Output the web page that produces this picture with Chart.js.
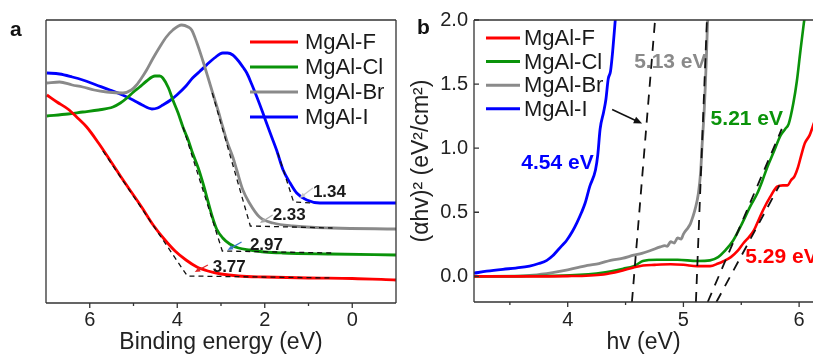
<!DOCTYPE html>
<html><head><meta charset="utf-8">
<script src="https://cdn.jsdelivr.net/npm/chart.js@4.4.1/dist/chart.umd.min.js"></script>
<style>
html,body{margin:0;padding:0;background:#fff;width:813px;height:356px;overflow:hidden;}
#wa{position:absolute;left:0;top:0;width:405px;height:356px;}
#wb{position:absolute;left:405px;top:0;width:408px;height:356px;}
</style></head><body>
<div id="wa"><canvas id="ca"></canvas></div>
<div id="wb"><canvas id="cb"></canvas></div>
<script>
// ---------------- DATA ----------------
const seriesNames = ['MgAl-F', 'MgAl-Cl', 'MgAl-Br', 'MgAl-I'];

// Panel a: binding energy (eV) vs intensity (arb. units)
const aBE_F  = [6.98,6.75,6.5,6.3,6.07,5.8,5.54,5.3,5.05,4.8,4.55,4.3,4.05,3.8,3.55,3.3,3.0,2.6,2.0,1.0,0,-1];
const aInt_F = [208,201,194,186,176,160,143,127,111,95,78,64,52,43,36,32,29,27,26,25,24.5,23];
const aBE_Cl  = [6.98,6.5,6.16,5.8,5.47,5.3,5.15,5.0,4.86,4.7,4.51,4.4,4.33,4.2,4.1,3.98,3.87,3.75,3.65,3.52,3.4,3.3,3.19,3.1,2.96,2.8,2.6,2.34,2.0,1.59,0.5,-1];
const aInt_Cl = [187,189,191,193,196,200,205,211,216,222,227,227,225,215,203,190,176,163,150,135,118,102,85,74,65,59,55,53,51,50,49,48];
const aBE_Br  = [6.98,6.69,6.4,6.16,5.9,5.61,5.24,5.05,4.93,4.8,4.7,4.55,4.4,4.25,4.1,3.9,3.75,3.67,3.55,3.42,3.3,3.19,3.05,2.96,2.85,2.73,2.64,2.5,2.35,2.12,1.81,1.36,0.45,-1];
const aInt_Br = [220,221,218,216,213,211,210,213,218,226,233,245,256,266,273,278,276,273,260,243,226,210,190,176,160,146,133,113,100,86,80,77,75,74];
const aBE_I  = [6.98,6.69,6.4,6.16,5.85,5.54,5.25,5.01,4.8,4.58,4.45,4.33,4.15,4.01,3.8,3.65,3.5,3.33,3.15,2.96,2.85,2.73,2.6,2.5,2.41,2.3,2.18,2.05,1.96,1.85,1.73,1.58,1.42,1.27,1.04,0.74,0,-1];
const aInt_I = [230,229,226,223,218,213,208,203,198,194,195,198,203,208,217,225,231,238,245,250,250,248,242,236,230,219,206,191,180,167,153,133,120,110,103,100,100,100];
// onset fits (tangent + baseline)
const aFitF_BE  = [5.7,3.77,0.45],  aFitF_Int  = [152,27,25];
const aFitCl_BE = [3.87,2.97,0.45], aFitCl_Int = [176,52,50];
const aFitBr_BE = [3.2,2.33,0.45],  aFitBr_Int = [210,77,75];
const aFitI_BE  = [1.7,1.34,0.9],   aFitI_Int  = [150,101,100];
const aOnsets = ['3.77', '2.97', '2.33', '1.34'];
const aXTicks = [0, 2, 4, 6];
const aXMinor = [1, 3, 5];

// Panel b: hv (eV) vs (ahv)^2
const bHv_F  = [3.19,3.6,4.0,4.31,4.45,4.57,4.65,4.75,4.89,5.0,5.12,5.23,5.3,5.35,5.41,5.47,5.52,5.57,5.61,5.65,5.69,5.75,5.81,5.86,5.9,5.93,5.96,5.99,6.02,6.05,6.09,6.13];
const bVal_F = [0.0,0.0,0.002,0.015,0.04,0.07,0.085,0.09,0.094,0.09,0.08,0.08,0.1,0.12,0.15,0.2,0.26,0.31,0.36,0.44,0.52,0.62,0.70,0.71,0.71,0.75,0.78,0.85,0.95,1.04,1.1,1.2];
const bHv_Cl  = [3.19,3.6,4.02,4.31,4.48,4.57,4.6,4.65,4.77,4.95,5.12,5.23,5.3,5.36,5.43,5.5,5.58,5.64,5.68,5.72,5.78,5.84,5.88,5.91,5.95,5.98,6.01,6.04,6.06];
const bVal_Cl = [0.0,0.002,0.008,0.03,0.06,0.08,0.094,0.12,0.13,0.13,0.12,0.125,0.15,0.2,0.28,0.4,0.55,0.65,0.74,0.84,0.97,1.1,1.15,1.19,1.35,1.52,1.75,1.97,2.1];
const bHv_Br  = [3.19,3.5,3.7,3.87,4.0,4.17,4.27,4.37,4.47,4.57,4.64,4.71,4.8,4.84,4.86,4.89,4.92,4.95,4.98,5.0,5.04,5.06,5.08,5.1,5.13,5.15,5.16,5.18,5.19,5.2,5.21,5.22];
const bVal_Br = [0.0,0.0,0.01,0.03,0.05,0.085,0.1,0.125,0.14,0.165,0.18,0.2,0.23,0.24,0.235,0.27,0.26,0.3,0.29,0.33,0.38,0.41,0.46,0.52,0.65,0.83,1.0,1.3,1.5,1.75,2.0,2.1];
const bHv_I  = [3.19,3.3,3.44,3.55,3.67,3.75,3.82,3.87,3.91,3.95,3.99,4.04,4.08,4.12,4.15,4.19,4.24,4.26,4.28,4.31,4.33,4.35,4.37,4.39,4.41,4.42];
const bVal_I = [0.025,0.04,0.055,0.065,0.08,0.1,0.125,0.16,0.2,0.24,0.28,0.35,0.42,0.5,0.57,0.7,0.83,0.95,1.15,1.28,1.38,1.54,1.6,1.77,1.99,2.1];
// Tauc extrapolation lines
const bFitA_Hv = [4.555,4.755], bFitA_Val = [-0.2,2.0];
const bFitB_Hv = [5.108,5.203], bFitB_Val = [-0.2,2.0];
const bFitC_Hv = [5.21,5.85],   bFitC_Val = [-0.2,1.15];
const bFitD_Hv = [5.285,5.83],  bFitD_Val = [-0.2,0.71];
const bGaps = ['5.29 eV', '5.21 eV', '5.13 eV', '4.54 eV'];
const bXTicks = [4, 5, 6];
const bXMinor = [3.5, 4.5, 5.5];
const bYTicks = [0, 0.5, 1.0, 1.5, 2.0];

// ---------------- STYLE ----------------
const COL = ['#ff0000', '#0a930a', '#8a8a8a', '#0000ff'];
const FONT = 'Arial, "Liberation Sans", Helvetica, sans-serif';
Chart.defaults.font.family = FONT;
Chart.defaults.color = '#1a1a1a';
Chart.defaults.animation = false;

const zip = (xs, ys) => xs.map((x, i) => ({x, y: ys[i]}));
function curve(i, xs, ys, w) {
  return {label: seriesNames[i], data: zip(xs, ys), borderColor: COL[i], backgroundColor: COL[i],
    borderWidth: w, pointRadius: 0, cubicInterpolationMode: 'monotone', fill: false, order: 2, isSeries: true};
}
function dashed(xs, ys, dash, w) {
  return {label: '', data: zip(xs, ys), borderColor: '#111', borderWidth: w, borderDash: dash,
    pointRadius: 0, tension: 0, fill: false, order: 0, isSeries: false};
}
function arrow(ctx, x1, y1, x2, y2, color, w, head) {
  const ang = Math.atan2(y2 - y1, x2 - x1);
  ctx.strokeStyle = color; ctx.fillStyle = color; ctx.lineWidth = w; ctx.setLineDash([]);
  ctx.beginPath(); ctx.moveTo(x1, y1);
  ctx.lineTo(x2 - Math.cos(ang) * head * 0.8, y2 - Math.sin(ang) * head * 0.8); ctx.stroke();
  ctx.beginPath(); ctx.moveTo(x2, y2);
  ctx.lineTo(x2 - head * Math.cos(ang - 0.4), y2 - head * Math.sin(ang - 0.4));
  ctx.lineTo(x2 - head * Math.cos(ang + 0.4), y2 - head * Math.sin(ang + 0.4));
  ctx.closePath(); ctx.fill();
}
function deco(cfg) {
  return {
    id: 'deco',
    beforeDatasetsDraw(chart) {
      const ctx = chart.ctx, xs = chart.scales.x, ys = chart.scales.y;
      ctx.save();
      for (const t of cfg.textsUnder || []) {
        ctx.font = t.font; ctx.fillStyle = t.color; ctx.textAlign = t.align; ctx.textBaseline = 'middle';
        ctx.fillText(t.text, xs.getPixelForValue(t.x), ys.getPixelForValue(t.y));
      }
      ctx.restore();
    },
    afterDatasetsDraw(chart) {
      const ctx = chart.ctx, ca = chart.chartArea, xs = chart.scales.x, ys = chart.scales.y;
      ctx.save();
      ctx.strokeStyle = '#333'; ctx.lineWidth = 1.3; ctx.setLineDash([]);
      ctx.beginPath();
      for (const s of cfg.frame) {
        if (s === 'left') { ctx.moveTo(ca.left, ca.top); ctx.lineTo(ca.left, ca.bottom); }
        if (s === 'right') { ctx.moveTo(ca.right, ca.top); ctx.lineTo(ca.right, ca.bottom); }
        if (s === 'top') { ctx.moveTo(ca.left, ca.top); ctx.lineTo(ca.right, ca.top); }
        if (s === 'bottom') { ctx.moveTo(ca.left, ca.bottom); ctx.lineTo(ca.right, ca.bottom); }
      }
      ctx.stroke();
      ctx.beginPath();
      for (const v of cfg.xMajor) { const p = xs.getPixelForValue(v); ctx.moveTo(p, ca.bottom); ctx.lineTo(p, ca.bottom + 5); }
      for (const v of cfg.xMinor) { const p = xs.getPixelForValue(v); ctx.moveTo(p, ca.bottom); ctx.lineTo(p, ca.bottom + 3); }
      for (const v of cfg.yIn || []) { const p = ys.getPixelForValue(v); ctx.moveTo(ca.left, p); ctx.lineTo(ca.left + 5, p); }
      ctx.stroke();
      for (const a of cfg.arrows) {
        arrow(ctx, xs.getPixelForValue(a.from[0]), ys.getPixelForValue(a.from[1]),
          xs.getPixelForValue(a.to[0]), ys.getPixelForValue(a.to[1]), a.color, a.w, a.head);
      }
      for (const t of cfg.texts || []) {
        ctx.font = t.font; ctx.fillStyle = t.color; ctx.textAlign = t.align; ctx.textBaseline = 'middle';
        ctx.fillText(t.text, xs.getPixelForValue(t.x), ys.getPixelForValue(t.y));
      }
      const L = cfg.legend;
      chart.data.datasets.filter(d => d.isSeries).forEach((d, i) => {
        const y = L.y0 + i * L.dy;
        ctx.strokeStyle = d.borderColor; ctx.lineWidth = 3; ctx.setLineDash([]);
        ctx.beginPath(); ctx.moveTo(L.x1, y); ctx.lineTo(L.x2, y); ctx.stroke();
        ctx.font = L.font; ctx.fillStyle = '#1a1a1a'; ctx.textAlign = 'left'; ctx.textBaseline = 'middle';
        ctx.fillText(d.label, L.tx, y + 1);
      });
      ctx.font = 'bold 21px ' + FONT; ctx.fillStyle = '#111'; ctx.textAlign = 'left'; ctx.textBaseline = 'middle';
      ctx.fillText(cfg.letter.text, cfg.letter.x, cfg.letter.y);
      ctx.restore();
    }
  };
}

// ---------------- PANEL A ----------------
const lblA = 'bold 17px ' + FONT;
new Chart(document.getElementById('ca'), {
  type: 'line',
  data: {datasets: [
    dashed(aFitF_BE, aFitF_Int, [5, 4], 1.3),
    dashed(aFitCl_BE, aFitCl_Int, [5, 4], 1.3),
    dashed(aFitBr_BE, aFitBr_Int, [5, 4], 1.3),
    dashed(aFitI_BE, aFitI_Int, [5, 4], 1.3),
    curve(0, aBE_F, aInt_F, 2.8),
    curve(1, aBE_Cl, aInt_Cl, 2.8),
    curve(2, aBE_Br, aInt_Br, 2.8),
    curve(3, aBE_I, aInt_I, 2.8)
  ]},
  options: {
    responsive: true, maintainAspectRatio: false, devicePixelRatio: 1,
    layout: {padding: {left: 46, right: 9, top: 20, bottom: 0}},
    plugins: {legend: {display: false}, tooltip: {enabled: false}},
    scales: {
      x: {type: 'linear', min: -1, max: 7, reverse: true,
        afterBuildTicks: s => { s.ticks = aXTicks.map(v => ({value: v})); },
        afterFit: s => { s.height = 53; },
        grid: {display: false, drawTicks: false}, border: {display: false},
        ticks: {font: {size: 20}, color: '#222', padding: 5, maxRotation: 0, callback: v => String(v)},
        title: {display: true, text: 'Binding energy (eV)', font: {size: 23}, color: '#222', padding: {top: 0, bottom: 0}}},
      y: {type: 'linear', min: 0, max: 283, display: false}
    }
  },
  plugins: [deco({
    frame: ['left', 'right', 'top', 'bottom'], xMajor: aXTicks, xMinor: aXMinor,
    arrows: [
      {from: [3.30, 38], to: [3.60, 31], color: '#e02828', w: 1.3, head: 6},
      {from: [2.53, 61], to: [2.85, 53], color: '#3a78c8', w: 1.3, head: 6},
      {from: [1.82, 88], to: [2.11, 80], color: '#a8a8a8', w: 1.3, head: 6},
      {from: [0.90, 115], to: [1.20, 105], color: '#c8c8c8', w: 1.3, head: 6}
    ],
    texts: [
      {text: aOnsets[0], x: 3.19, y: 36, font: lblA, color: '#1a1a1a', align: 'left'},
      {text: aOnsets[1], x: 2.34, y: 58, font: lblA, color: '#1a1a1a', align: 'left'},
      {text: aOnsets[2], x: 1.82, y: 88, font: lblA, color: '#1a1a1a', align: 'left'},
      {text: aOnsets[3], x: 0.90, y: 111, font: lblA, color: '#1a1a1a', align: 'left'}
    ],
    legend: {x1: 250, x2: 298, tx: 305, y0: 42, dy: 25, font: '22px ' + FONT},
    letter: {text: 'a', x: 10, y: 30}
  })]
});

// ---------------- PANEL B ----------------
const lblB = 'bold 21px ' + FONT;
new Chart(document.getElementById('cb'), {
  type: 'line',
  data: {datasets: [
    dashed(bFitA_Hv, bFitA_Val, [10, 8], 1.8),
    dashed(bFitB_Hv, bFitB_Val, [10, 8], 1.8),
    dashed(bFitC_Hv, bFitC_Val, [10, 8], 1.8),
    dashed(bFitD_Hv, bFitD_Val, [10, 8], 1.8),
    curve(0, bHv_F, bVal_F, 2.6),
    curve(1, bHv_Cl, bVal_Cl, 2.6),
    curve(2, bHv_Br, bVal_Br, 2.8),
    curve(3, bHv_I, bVal_I, 2.8)
  ]},
  options: {
    responsive: true, maintainAspectRatio: false, devicePixelRatio: 1,
    layout: {padding: {left: 0, right: 0, top: 20, bottom: 0}},
    plugins: {legend: {display: false}, tooltip: {enabled: false}},
    scales: {
      x: {type: 'linear', min: 3.19, max: 6.12,
        afterBuildTicks: s => { s.ticks = bXTicks.map(v => ({value: v})); },
        afterFit: s => { s.height = 54; },
        grid: {display: false, drawTicks: false}, border: {display: false},
        ticks: {font: {size: 20}, color: '#222', padding: 6, maxRotation: 0, callback: v => String(v)},
        title: {display: true, text: 'hv (eV)', font: {size: 23}, color: '#222', padding: {top: 0, bottom: 0}}},
      y: {type: 'linear', min: -0.2, max: 2.0,
        afterBuildTicks: s => { s.ticks = bYTicks.map(v => ({value: v})); },
        afterFit: s => { s.width = 69; },
        grid: {display: false, drawTicks: false}, border: {display: false},
        ticks: {font: {size: 20}, color: '#222', padding: 6, callback: v => Number(v).toFixed(1)},
        title: {display: true, text: '(αhv)² (eV²/cm²)', font: {size: 23}, color: '#222', padding: {top: 3, bottom: 0}}}
    }
  },
  plugins: [deco({
    frame: ['left', 'top', 'bottom'], xMajor: bXTicks, xMinor: bXMinor, yIn: bYTicks,
    arrows: [{from: [4.384, 1.302], to: [4.643, 1.192], color: '#111', w: 1.5, head: 9}],
    textsUnder: [
      {text: bGaps[2], x: 4.887, y: 1.67, font: lblB, color: '#8a8a8a', align: 'center'}
    ],
    texts: [
      {text: bGaps[1], x: 5.548, y: 1.224, font: lblB, color: COL[1], align: 'center'},
      {text: bGaps[3], x: 3.912, y: 0.886, font: lblB, color: COL[3], align: 'center'},
      {text: bGaps[0], x: 5.535, y: 0.149, font: lblB, color: COL[0], align: 'left'}
    ],
    legend: {x1: 81, x2: 115, tx: 119, y0: 38, dy: 23.6, font: '22px ' + FONT},
    letter: {text: 'b', x: 12, y: 28}
  })]
});
</script>
</body></html>
